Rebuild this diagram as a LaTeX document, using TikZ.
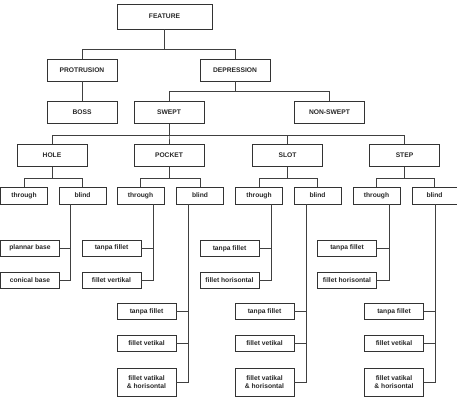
\documentclass[tikz,border=0pt]{standalone}
\usepackage{fontspec}
\setmainfont{Liberation Sans}
\begin{document}
\begin{tikzpicture}[x=1pt,y=-1pt,
  box/.style={draw=black!80, line width=0.8pt, inner sep=0pt, align=center,
    font=\fontsize{6.7}{8.5}\selectfont\bfseries, text=black!85},
  top/.style={box, minimum width=95pt, minimum height=25pt},
  big/.style={box, minimum width=70pt, minimum height=22pt},
  small/.style={box, minimum width=47pt, minimum height=17pt},
  leaf/.style={box, minimum width=59pt, minimum height=16pt},
  tall/.style={box, minimum width=59pt, minimum height=28pt},
  con/.style={draw=black!75, line width=0.8pt}]
\useasboundingbox (0,0) rectangle (457,407);
% level 0-2
\node[top] (feat) at (164.5,16.5) {FEATURE};
\node[big] (prot) at (82,70) {PROTRUSION};
\node[big] (dep) at (235,70) {DEPRESSION};
\node[big] (boss) at (82,112.5) {BOSS};
\node[big] (swept) at (169,112.5) {SWEPT};
\node[big] (nons) at (329.5,112.5) {NON-SWEPT};
% level 3
\node[big] (hole) at (52,155.5) {HOLE};
\node[big] (pock) at (169,155.5) {POCKET};
\node[big] (slot) at (287.5,155.5) {SLOT};
\node[big] (step) at (404.5,155.5) {STEP};
% level 4
\node[small] (hth) at (24,195.5) {through};
\node[small] (hbl) at (82.5,195.5) {blind};
\node[small] (pth) at (140.5,195.5) {through};
\node[small] (pbl) at (200,195.5) {blind};
\node[small] (sth) at (259,195.5) {through};
\node[small] (sbl) at (317.5,195.5) {blind};
\node[small] (tth) at (376.5,195.5) {through};
\node[small, minimum width=45pt] (tbl) at (434.5,195.5) {blind};
% leaves of through/blind with two children
\node[leaf] (hb1) at (30,248) {plannar base};
\node[leaf] (hb2) at (30,280) {conical base};
\node[leaf] (pt1) at (111.5,248) {tanpa fillet};
\node[leaf] (pt2) at (111.5,280) {fillet vertikal};
\node[leaf] (st1) at (229.5,248.5) {tanpa fillet};
\node[leaf] (st2) at (229.5,280) {fillet horisontal};
\node[leaf] (tt1) at (347,248) {tanpa fillet};
\node[leaf] (tt2) at (347,280) {fillet horisontal};
% leaves of blind with three children
\node[leaf] (pb1) at (146.5,311.5) {tanpa fillet};
\node[leaf] (pb2) at (146.5,343.5) {fillet vetikal};
\node[tall] (pb3) at (146.5,382) {fillet vatikal\\ \& horisontal};
\node[leaf] (sb1) at (264.5,311.5) {tanpa fillet};
\node[leaf] (sb2) at (264.5,343.5) {fillet vetikal};
\node[tall] (sb3) at (264.5,382) {fillet vatikal\\ \& horisontal};
\node[leaf] (tb1) at (394,311.5) {tanpa fillet};
\node[leaf] (tb2) at (394,343.5) {fillet vetikal};
\node[tall] (tb3) at (394,382) {fillet vatikal\\ \& horisontal};
% tree connectors
\draw[con] (feat.south) -- ++(0,20) -| (prot.north);
\draw[con] (feat.south) -- ++(0,20) -| (dep.north);
\draw[con] (prot.south) -- (boss.north);
\draw[con] (dep.south) -- ++(0,10) -| (swept.north);
\draw[con] (dep.south) -- ++(0,10) -| (nons.north);
\foreach \c in {hole,pock,slot,step}{
  \draw[con] (swept.south) -- ++(0,11) -| (\c.north);}
\draw[con] (hole.south) -- ++(0,11) -| (hth.north);
\draw[con] (hole.south) -- ++(0,11) -| (hbl.north);
\draw[con] (pock.south) -- ++(0,11) -| (pth.north);
\draw[con] (pock.south) -- ++(0,11) -| (pbl.north);
\draw[con] (slot.south) -- ++(0,11) -| (sth.north);
\draw[con] (slot.south) -- ++(0,11) -| (sbl.north);
\draw[con] (step.south) -- ++(0,11) -| (tth.north);
\draw[con] (step.south) -- ++(0,11) -| (tbl.north);
% side connectors
\draw[con] ([xshift=-12.5pt]hbl.south) |- (hb2.east);
\draw[con] ([xshift=-12.5pt]hbl.south) |- (hb1.east);
\draw[con] ([xshift=12.5pt]pth.south) |- (pt2.east);
\draw[con] ([xshift=12.5pt]pth.south) |- (pt1.east);
\draw[con] ([xshift=12pt]sth.south) |- (st2.east);
\draw[con] ([xshift=12pt]sth.south) |- (st1.east);
\draw[con] ([xshift=12.5pt]tth.south) |- (tt2.east);
\draw[con] ([xshift=12.5pt]tth.south) |- (tt1.east);
\draw[con] ([xshift=-12pt]pbl.south) |- (pb3.east);
\draw[con] ([xshift=-12pt]pbl.south) |- (pb2.east);
\draw[con] ([xshift=-12pt]pbl.south) |- (pb1.east);
\draw[con] ([xshift=-11.5pt]sbl.south) |- (sb3.east);
\draw[con] ([xshift=-11.5pt]sbl.south) |- (sb2.east);
\draw[con] ([xshift=-11.5pt]sbl.south) |- (sb1.east);
\draw[con] ([xshift=0.5pt]tbl.south) |- (tb3.east);
\draw[con] ([xshift=0.5pt]tbl.south) |- (tb2.east);
\draw[con] ([xshift=0.5pt]tbl.south) |- (tb1.east);
\end{tikzpicture}
\end{document}
